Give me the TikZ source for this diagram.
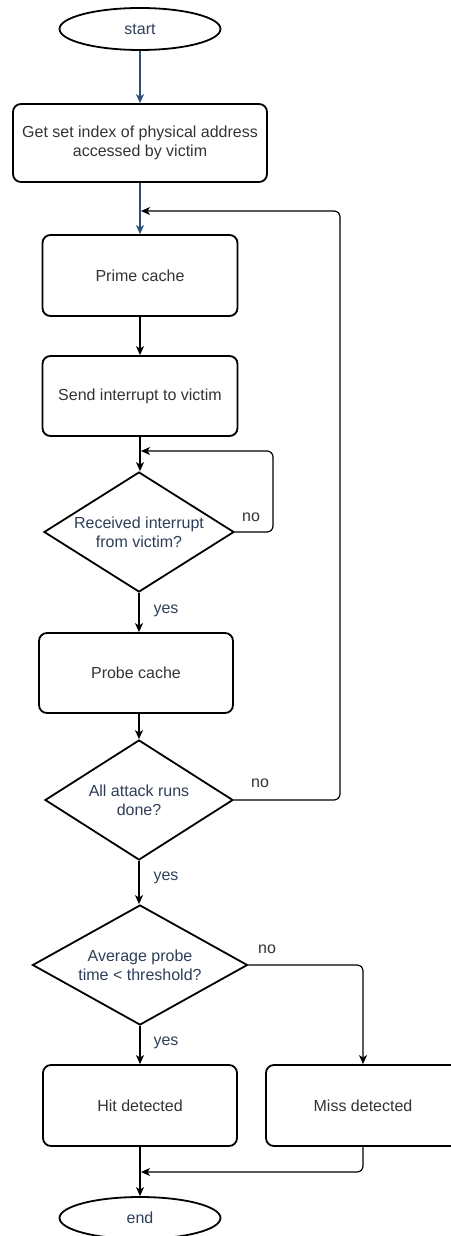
\documentclass[tikz,border=0pt]{standalone}
\usepackage{fontspec}
\setmainfont{Liberation Sans}
\usetikzlibrary{shapes.geometric,arrows.meta}
\definecolor{txtblue}{HTML}{2E3E58}
\definecolor{txtgray}{HTML}{333333}
\definecolor{linkblue}{HTML}{2B4F7A}
\tikzset{
  base/.style={draw=black, line width=1.8pt, inner sep=0pt, align=center,
    font=\fontsize{16}{19}\selectfont},
  terminal/.style={base, ellipse, minimum width=161pt, minimum height=42pt, text=txtblue},
  process/.style={base, rectangle, rounded corners=8pt, text=txtgray},
  decision/.style={base, diamond, shape aspect=1.6, text=txtblue},
  link/.style={line width=1.2pt, draw=black, rounded corners=6pt,
    -{Stealth[length=9pt,width=8pt,inset=2.5pt]}},
  plainlink/.style={line width=1.2pt, draw=black, rounded corners=6pt},
  lbl/.style={font=\fontsize{16}{19}\selectfont, text=txtgray, inner sep=0pt}
}
\begin{document}
\begin{tikzpicture}[x=1pt, y=-1pt]
  \useasboundingbox (0,0) rectangle (450,1236);

  % main column
  \node[terminal] (start) at (140,29) {start};
  \node[process, minimum width=254pt, minimum height=78pt] (setidx) at (140,143)
    {Get set index of physical address\\accessed by victim};
  \node[process, minimum width=195pt, minimum height=81pt] (prime) at (140,275.5) {Prime cache};
  \node[process, minimum width=195pt, minimum height=80pt] (send) at (140,396) {Send interrupt to victim};
  \node[decision, minimum width=190pt, minimum height=120pt] (recv) at (139,532)
    {Received interrupt\\from victim?};
  \node[process, minimum width=194pt, minimum height=80pt] (probe) at (136,673) {Probe cache};
  \node[decision, minimum width=188pt, minimum height=120pt] (all) at (139,800)
    {All attack runs\\done?};
  \node[decision, minimum width=215pt, minimum height=120pt] (avg) at (140,965)
    {Average probe\\time < threshold?};
  \node[process, minimum width=194pt, minimum height=81pt] (hit) at (140,1105.5) {Hit detected};
  \node[process, minimum width=194pt, minimum height=81pt] (miss) at (363,1105.5) {Miss detected};
  \node[terminal] (end) at (140,1218) {end};

  % junction points where loops rejoin the main column
  \coordinate (j0) at (140,211);
  \coordinate (j1) at (140,451);
  \coordinate (j2) at (140,1172);

  % forward flow
  \draw[link, draw=linkblue, -{Stealth[length=9pt,width=8pt,inset=2.5pt]}] (start) -- (setidx);
  \draw[link, draw=linkblue] (setidx) -- (setidx.south |- prime.north);
  \draw[link] (prime) -- (send);
  \draw[link] (send) -- (send.south |- recv.north);
  \draw[link] (recv.south) -- (recv.south |- probe.north);
  \draw[link] (probe.south -| all.north) -- (all.north);
  \draw[link] (all.south) -- (all.south |- avg.north);
  \draw[link] (avg.south) -- (avg.south |- hit.north);
  \draw[link] (hit) -- (end);

  % loops and branches
  \draw[link] (recv.east) -- (273,532) |- ([xshift=1pt]j1);
  \draw[link] (all.east) -- (340,800) |- ([xshift=1pt]j0);
  \draw[link] (avg.east) -| (miss.north);
  \draw[link] (miss.south) |- ([xshift=1pt]j2);

  % branch labels
  \node[lbl] (no1) at (251,517) {no};
  \node[lbl, text=txtblue] (yes1) at (166,611) {yes};
  \node[lbl] (no2) at (260,783) {no};
  \node[lbl, text=txtblue] (yes2) at (166,878) {yes};
  \node[lbl] (no3) at (267,949) {no};
  \node[lbl, text=txtblue] (yes3) at (166,1043) {yes};
\end{tikzpicture}
\end{document}
